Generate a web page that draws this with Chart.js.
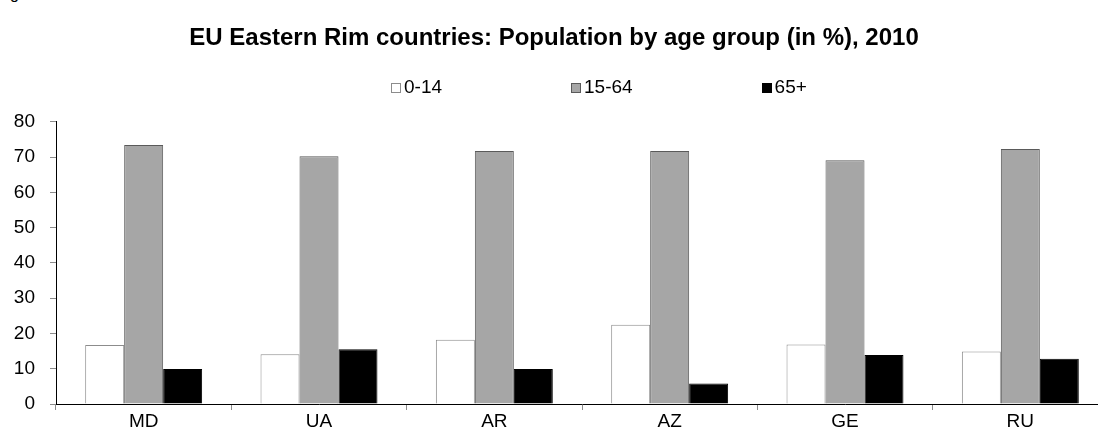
<!DOCTYPE html>
<html>
<head>
<meta charset="utf-8">
<script src="https://cdn.jsdelivr.net/npm/chart.js@4/dist/chart.umd.min.js"></script>
<style>
  html, body { margin: 0; padding: 0; background: #fff; overflow: hidden; width: 1098px; height: 439px; }
  #wrap { position: absolute; left: 0; top: 0; width: 1108px; height: 439px; }
  #cut { position: absolute; left: 10px; top: -14px; font: 16px 'Liberation Sans', Arial, sans-serif; line-height: 16px; color: #000; }
</style>
</head>
<body>
<div id="cut">g</div>
<div id="wrap"><canvas id="c" width="1108" height="439"></canvas></div>
<script>
const titleText = 'EU Eastern Rim countries: Population by age group (in %), 2010';
const categories = ['MD', 'UA', 'AR', 'AZ', 'GE', 'RU'];
const seriesNames = ['0-14', '15-64', '65+'];
const age0to14 = [16.7, 14.1, 18.2, 22.5, 16.9, 14.9];
const age15to64 = [73.4, 70.2, 71.7, 71.7, 69.1, 72.3];
const age65plus = [9.9, 15.5, 9.9, 5.8, 13.9, 12.8];
const yTicks = [0, 10, 20, 30, 40, 50, 60, 70, 80];

Chart.defaults.font.family = "'Liberation Sans', Arial, sans-serif";
Chart.defaults.color = '#000';

const spacedLegend = {
  id: 'spacedLegend',
  afterDraw(chart, args, opts) {
    const ctx = chart.ctx;
    const items = chart.data.datasets;
    ctx.save();
    ctx.font = opts.fontSize + 'px ' + Chart.defaults.font.family;
    ctx.textBaseline = 'middle';
    ctx.textAlign = 'left';
    const widths = items.map(d => opts.box + opts.boxGap + ctx.measureText(d.label).width);
    const total = widths.reduce((a, b) => a + b, 0) + opts.itemGap * (items.length - 1);
    let x = Math.round(opts.centerX - total / 2);
    items.forEach((d, i) => {
      const by = Math.round(opts.y - opts.box / 2);
      ctx.fillStyle = d.backgroundColor;
      ctx.fillRect(Math.round(x) + 0.5, by + 0.5, opts.box, opts.box);
      ctx.strokeStyle = d.borderColor;
      ctx.lineWidth = 1;
      ctx.strokeRect(Math.round(x) + 0.5, by + 0.5, opts.box, opts.box);
      ctx.fillStyle = '#000';
      ctx.fillText(d.label, x + opts.box + opts.boxGap, opts.y + 1);
      x += widths[i] + opts.itemGap;
    });
    ctx.restore();
  }
};

new Chart(document.getElementById('c'), {
  type: 'bar',
  data: {
    labels: categories,
    datasets: [
      { label: seriesNames[0], data: age0to14, backgroundColor: '#ffffff', borderColor: '#8c8c8c', borderWidth: 1 },
      { label: seriesNames[1], data: age15to64, backgroundColor: '#a6a6a6', borderColor: '#5a5a5a', borderWidth: 1 },
      { label: seriesNames[2], data: age65plus, backgroundColor: '#000000', borderColor: '#000000', borderWidth: 1 }
    ]
  },
  plugins: [spacedLegend],
  options: {
    responsive: false,
    animation: false,
    layout: { padding: { left: 0, right: 0, top: 0, bottom: 6.2 } },
    datasets: { bar: { categoryPercentage: 0.667, barPercentage: 1.0 } },
    plugins: {
      legend: { display: false },
      tooltip: { enabled: false },
      title: {
        display: true,
        text: titleText,
        color: '#000',
        font: { size: 24, weight: 'bold' },
        padding: { top: 24, bottom: 69 }
      },
      spacedLegend: { centerX: 599, y: 87, box: 9, boxGap: 4, itemGap: 129, fontSize: 19 }
    },
    scales: {
      x: {
        grid: { display: true, drawOnChartArea: false, drawTicks: true, tickLength: 6, color: '#8c8c8c', offset: true },
        border: { display: true, color: '#000', width: 1 },
        ticks: { font: { size: 19 }, color: '#000', padding: 0 }
      },
      y: {
        min: 0,
        max: 80,
        afterFit(scale) { scale.width = 56; },
        afterBuildTicks(scale) { scale.ticks = yTicks.map(v => ({ value: v })); },
        grid: { display: true, drawOnChartArea: false, drawTicks: true, tickLength: 6, color: '#8c8c8c' },
        border: { display: true, color: '#000', width: 1 },
        ticks: { font: { size: 19 }, color: '#000', padding: 15 }
      }
    }
  }
});
</script>
</body>
</html>
